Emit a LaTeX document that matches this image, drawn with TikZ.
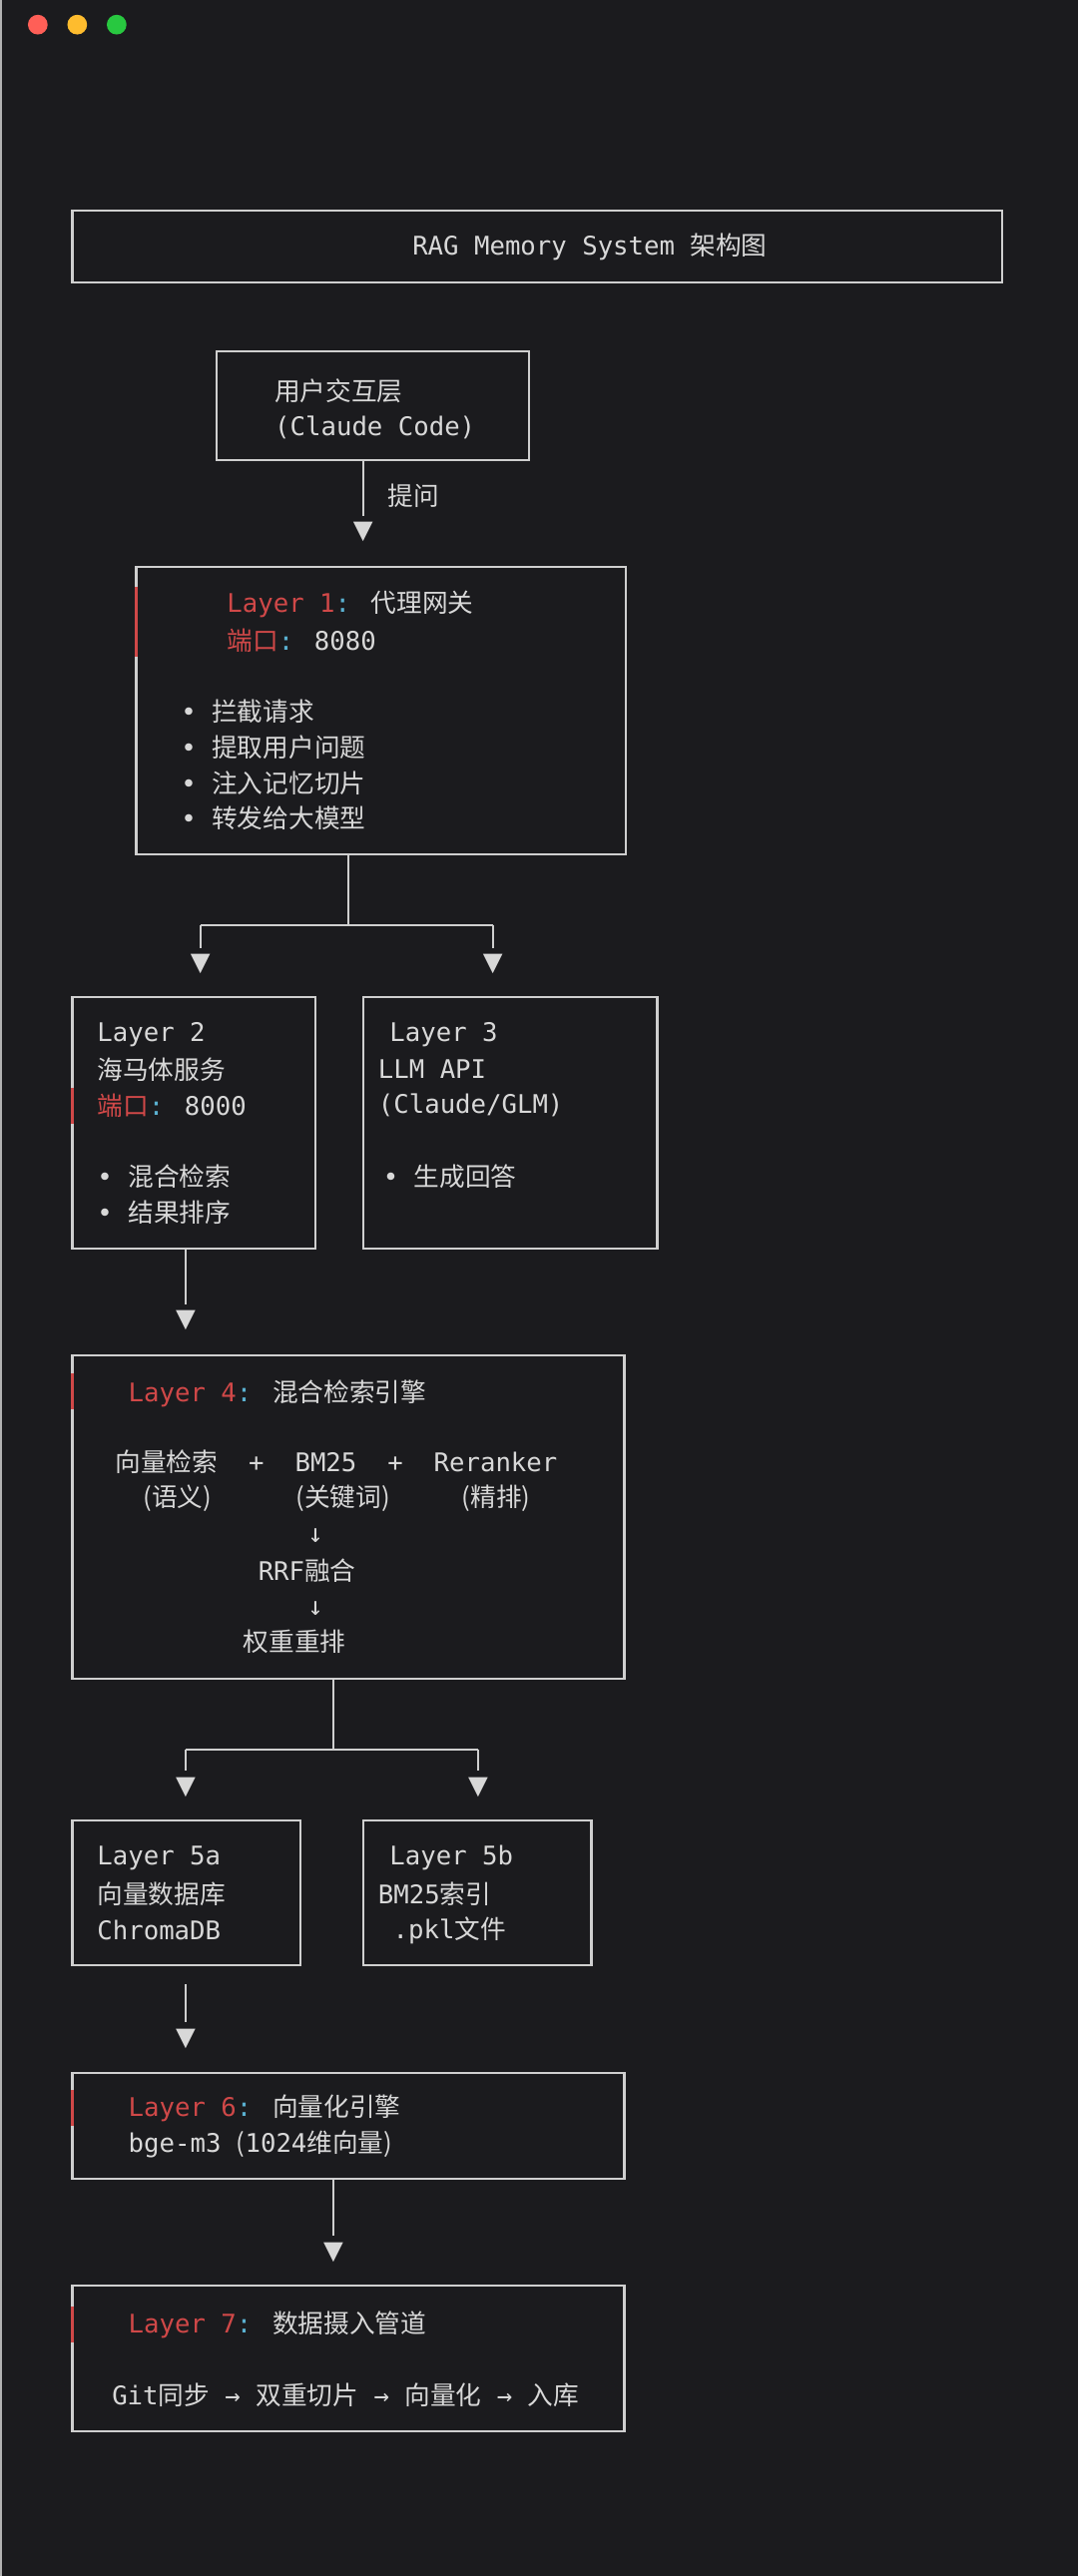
\documentclass[tikz,border=0pt]{standalone}
\usepackage{fontspec}
\setmainfont{DejaVu Sans Mono}
\newfontfamily\zhf{Noto Sans CJK SC}
\newcommand{\zh}[1]{{\zhf #1}}
\definecolor{bg}{HTML}{1B1B1E}
\definecolor{fg}{HTML}{D8D8D8}
\definecolor{ln}{HTML}{CFCFCF}
\definecolor{rd}{HTML}{D04848}
\definecolor{cy}{HTML}{5AB0D0}
\definecolor{tlr}{HTML}{FF5F57}
\definecolor{tly}{HTML}{FEBC2E}
\definecolor{tlg}{HTML}{28C840}
\newcommand{\R}[1]{\textcolor{rd}{#1}}
\newcommand{\CO}{\textcolor{cy}{:}}
\begin{document}
\begin{tikzpicture}[x=1pt,y=-1pt,
  box/.style={draw=ln,line width=1.4pt},
  txt/.style={anchor=west,inner sep=0pt,text=fg,font=\fontsize{15.6}{18}\selectfont},
  tri/.style={inner sep=0pt,text=fg,font=\fontsize{20}{20}\selectfont},
  con/.style={draw=ln,line width=1.4pt},
  redbar/.style={draw=rd,line width=1.6pt}]
\fill[bg] (0,0) rectangle (656,1568);
\useasboundingbox (0,0) rectangle (656,1568);
\draw[line width=1pt,color=gray!60] (0.5,0) -- (0.5,1568);
\fill[tlr] (23,15) circle (6);
\fill[tly] (47,15) circle (6);
\fill[tlg] (71,15) circle (6);

% title
\draw[box] (44,128) rectangle (610,172);
\node[txt,anchor=center] (title) at (359,150) {RAG Memory System \zh{架构图}};

% user
\draw[box] (132,214) rectangle (322,280);
\coordinate (userS) at (221,280);
\node[txt] (u1) at (167,238) {\zh{用户交互层}};
\node[txt] (u2) at (167,260) {(Claude Code)};
\node[tri] (a1) at (221,324) {▼};
\draw[con] (userS) -- ([yshift=4pt]a1.north);
\node[txt] (q) at (236,302) {\zh{提问}};

% layer1
\draw[box] (83,345) rectangle (381,520);
\draw[redbar] (83,357) -- (83,400);
\node[txt] (l1a) at (138,368) {\R{Layer 1}\CO{} \zh{代理网关}};
\node[txt] (l1b) at (138,390) {\R{\zh{端口}}\CO{} 8080};
\node[txt] (l1c) at (110,433) {• \zh{拦截请求}};
\node[txt] (l1d) at (110,455) {• \zh{提取用户问题}};
\node[txt] (l1e) at (110,477) {• \zh{注入记忆切片}};
\node[txt] (l1f) at (110,498) {• \zh{转发给大模型}};
\coordinate (l1S) at (212,520);
\coordinate (j1) at (212,563);
\coordinate (j1l) at (122,563);
\coordinate (j1r) at (300,563);
\node[tri] (a2) at (122,587) {▼};
\node[tri] (a3) at (300,587) {▼};
\draw[con] (l1S) -- (j1);
\draw[con] (j1l) -- (j1r);
\draw[con] (j1l) -- ([yshift=4pt]a2.north);
\draw[con] (j1r) -- ([yshift=4pt]a3.north);

% layer2
\draw[box] (44,607) rectangle (192,760);
\draw[redbar] (44,662) -- (44,684);
\node[txt] (l2a) at (59,630) {Layer 2};
\node[txt] (l2b) at (59,651) {\zh{海马体服务}};
\node[txt] (l2c) at (59,673) {\R{\zh{端口}}\CO{} 8000};
\node[txt] (l2d) at (59,716) {• \zh{混合检索}};
\node[txt] (l2e) at (59,738) {• \zh{结果排序}};
% layer3
\draw[box] (221,607) rectangle (400,760);
\node[txt] (l3a) at (237,630) {Layer 3};
\node[txt] (l3b) at (230,651) {LLM API};
\node[txt] (l3c) at (230,673) {(Claude/GLM)};
\node[txt] (l3d) at (233,716) {• \zh{生成回答}};
\coordinate (l2S) at (113,760);
\node[tri] (a4) at (113,804) {▼};
\draw[con] (l2S) -- ([yshift=4pt]a4.north);

% layer4
\draw[box] (44,825) rectangle (380,1022);
\draw[redbar] (44,836) -- (44,858);
\node[txt] (l4a) at (78,848) {\R{Layer 4}\CO{} \zh{混合检索引擎}};
\node[txt] (l4b) at (70,890) {\zh{向量检索}\ \ +\ \ BM25\ \ +\ \ Reranker};
\node[txt] (l4c) at (87,912) {\zh{(语义)}};
\node[txt] (l4d) at (180,912) {\zh{(关键词)}};
\node[txt] (l4e) at (281,912) {\zh{(精排)}};
\node[txt,anchor=center] (l4f) at (192,935) {↓};
\node[txt] (l4g) at (157,956) {RRF\zh{融合}};
\node[txt,anchor=center] (l4h) at (192,979) {↓};
\node[txt] (l4i) at (148,999) {\zh{权重重排}};
\coordinate (l4S) at (203,1022);
\coordinate (j2) at (203,1065);
\coordinate (j2l) at (113,1065);
\coordinate (j2r) at (291,1065);
\node[tri] (a5) at (113,1088) {▼};
\node[tri] (a6) at (291,1088) {▼};
\draw[con] (l4S) -- (j2);
\draw[con] (j2l) -- (j2r);
\draw[con] (j2l) -- ([yshift=4pt]a5.north);
\draw[con] (j2r) -- ([yshift=4pt]a6.north);

% layer5
\draw[box] (44,1108) rectangle (183,1196);
\node[txt] (l5a) at (59,1131) {Layer 5a};
\node[txt] (l5b) at (59,1153) {\zh{向量数据库}};
\node[txt] (l5c) at (59,1175) {ChromaDB};
\draw[box] (221,1108) rectangle (360,1196);
\node[txt] (l5d) at (237,1131) {Layer 5b};
\node[txt] (l5e) at (230,1153) {BM25\zh{索引}};
\node[txt] (l5f) at (239,1175) {.pkl\zh{文件}};
\coordinate (l5S) at (113,1208);
\node[tri] (a7) at (113,1241) {▼};
\draw[con] (l5S) -- ([yshift=4pt]a7.north);

% layer6
\draw[box] (44,1262) rectangle (380,1326);
\draw[redbar] (44,1272) -- (44,1294);
\node[txt] (l6a) at (78,1283) {\R{Layer 6}\CO{} \zh{向量化引擎}};
\node[txt] (l6b) at (78,1305) {bge-m3 \zh{(}1024\zh{维向量)}};
\coordinate (l6S) at (203,1326);
\node[tri] (a8) at (203,1371) {▼};
\draw[con] (l6S) -- ([yshift=4pt]a8.north);

% layer7
\draw[box] (44,1391) rectangle (380,1480);
\draw[redbar] (44,1404) -- (44,1426);
\node[txt] (l7a) at (78,1415) {\R{Layer 7}\CO{} \zh{数据摄入管道}};
\node[txt] (l7b) at (68,1458) {Git\zh{同步} → \zh{双重切片} → \zh{向量化} → \zh{入库}};
\end{tikzpicture}
\end{document}
